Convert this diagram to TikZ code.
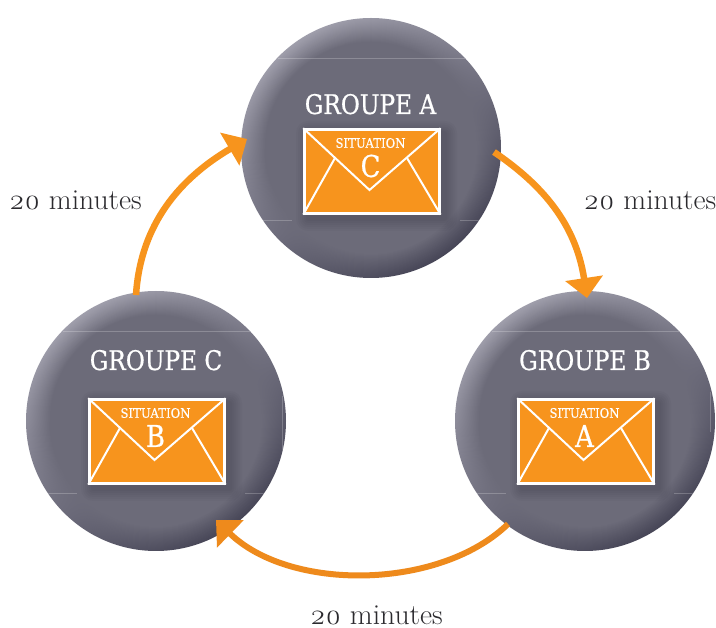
\documentclass[tikz,border=0pt]{standalone}
\usepackage{fontspec}
\usetikzlibrary{arrows.meta}
\newfontfamily\groupfont[FakeStretch=.86,FakeBold=.7]{DejaVu Serif}
\newfontfamily\smallgroupfont[FakeStretch=.9,FakeBold=.4]{DejaVu Serif}
\newfontfamily\timefont[FakeStretch=1.02,Numbers=OldStyle]{Latin Modern Roman}
\definecolor{disc}{HTML}{6C6B79}
\definecolor{rimlight}{HTML}{A09FAC}
\definecolor{rimdark}{HTML}{474657}
\definecolor{enveloppe}{HTML}{F7941D}
\definecolor{fleche}{HTML}{F7941D}
\definecolor{flechesombre}{HTML}{EE8A1C}
\definecolor{texte}{HTML}{2B2A2E}
\tikzset{
  x=1pt,y=-1pt,
  grouplabel/.style={text=white,font=\groupfont\fontsize{27}{27}\selectfont,inner sep=0pt,anchor=base},
  situlabel/.style={text=white,font=\smallgroupfont\fontsize{13}{13}\selectfont,inner sep=0pt},
  letterlabel/.style={text=white,font=\groupfont\fontsize{30}{30}\selectfont,inner sep=0pt},
  timelabel/.style={text=texte,font=\timefont\fontsize{29}{29}\selectfont,inner sep=0pt,anchor=base},
  flow/.style={line width=6.5pt,color=fleche,-{Triangle[length=20pt,width=37pt]}},
  flowdark/.style={flow,line width=6pt,color=flechesombre},
  envline/.style={draw=white,line width=2pt},
  seam/.style={draw=white,opacity=.22,line width=.6pt},
}
\newcommand{\disque}[3]{% name, cx, cy
  \foreach \i in {0,...,24}{
    \pgfmathsetmacro{\pp}{100*(\i/24)^1.1}
    \shade[top color=disc!\pp!rimlight,bottom color=disc!\pp!rimdark,shading angle=35]
      (#2,#3) circle[radius={130-\i}];
  }
  \begin{scope}
    \clip (#2,#3) circle[radius=130];
    \draw[seam] (#2-93,#3-90) -- (#2+94,#3-90);
    \draw[seam] (#2-113,#3+72) -- (#2-79,#3+72);
    \draw[seam] (#2+89,#3+72) -- (#2+122,#3+72);
  \end{scope}
  \node[circle,minimum size=260pt,inner sep=0pt] (#1) at (#2,#3) {};
}
\newcommand{\enveloppe}[4]{% name, left, top, letter
  \begin{scope}[shift={(#2,#3)}]
    \foreach \g in {12,10,...,2}
      \fill[black,opacity=.022,rounded corners=\g pt] (6-\g,6-\g) rectangle (143+\g,92+\g);
    \node[draw=white,line width=2.4pt,fill=enveloppe,minimum width=135pt,minimum height=84pt,inner sep=0pt,anchor=north west] (#1) at (1.2,1.2) {};
    \draw[envline,line join=miter] (#1.north west) -- (67.5,63) -- (#1.north east);
    \draw[envline] (33,31) -- (#1.south west);
    \draw[envline] (105,31) -- (#1.south east);
    \node[situlabel] at (68.5,16) {SITUATION};
    \node[letterlabel] at (68.5,39) {#4};
  \end{scope}
}
\begin{document}
\begin{tikzpicture}
\useasboundingbox (0,0) rectangle (716,628);
\fill[white] (0,0) rectangle (716,628);
\disque{A}{371}{148}
\disque{B}{585}{421}
\disque{C}{156}{421}
\draw[seam] (282,396) -- (282,450);
\draw[seam] (710,392) -- (710,432);
\node[grouplabel] (gA) at (370.5,114) {GROUPE A};
\node[grouplabel] (gB) at (585,370) {GROUPE B};
\node[grouplabel] (gC) at (156,370) {GROUPE C};
\enveloppe{eA}{302}{127}{C}
\enveloppe{eB}{516}{397}{A}
\enveloppe{eC}{87}{397}{B}
\coordinate (aout) at (494,152);
\coordinate (bin) at (587,298);
\coordinate (bout) at (508,524);
\coordinate (cin) at (216,520);
\coordinate (cout) at (136,295);
\coordinate (ain) at (247,139);
\draw[flow] (aout) .. controls (535,180) and (575,218) .. (bin);
\draw[flowdark] (bout) .. controls (440,590) and (290,592) .. (cin);
\draw[flow] (cout) .. controls (140,232) and (172,183) .. (ain);
\node[timelabel] (t1) at (75.5,210) {20 minutes};
\node[timelabel] (t2) at (650,210) {20 minutes};
\node[timelabel] (t3) at (376.5,625) {20 minutes};
\end{tikzpicture}
\end{document}
